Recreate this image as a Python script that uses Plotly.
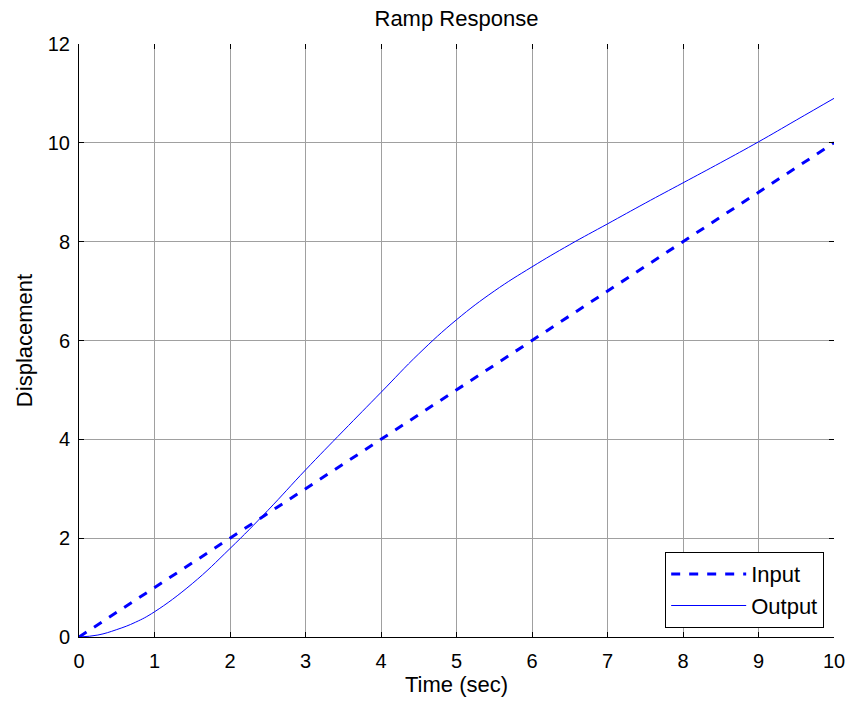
import plotly.graph_objects as go

t_input = [0, 1, 2, 3, 4, 5, 6, 7, 8, 9, 10]
y_input = [0, 1, 2, 3, 4, 5, 6, 7, 8, 9, 10]

t_output = [0, 0.25, 0.5, 0.75, 1, 1.5, 2, 2.5, 3, 3.5, 4, 4.5, 5, 5.5, 6, 6.5, 7, 7.5, 8, 8.5, 9, 9.5, 10]
y_output = [0, 0.04, 0.15, 0.3, 0.51, 1.08, 1.79, 2.56, 3.38, 4.17, 4.95, 5.73, 6.42, 7.0, 7.49, 7.94, 8.36, 8.78, 9.19, 9.6, 10.02, 10.46, 10.9]

x_ticks = [0, 1, 2, 3, 4, 5, 6, 7, 8, 9, 10]
y_ticks = [0, 2, 4, 6, 8, 10, 12]

FONT = "Liberation Sans, Arial, sans-serif"

fig = go.Figure()
fig.add_trace(go.Scatter(x=t_input, y=y_input, mode="lines", name="Input",
                         line=dict(color="#0000ff", width=3, dash="dash")))
fig.add_trace(go.Scatter(x=t_output, y=y_output, mode="lines", name="Output",
                         line=dict(color="#0000ff", width=1, shape="spline", smoothing=1.2)))

axis_common = dict(
    showgrid=True, gridcolor="#a0a0a0", gridwidth=1,
    showline=True, linecolor="black", linewidth=1,
    ticks="inside", ticklen=5, tickcolor="black",
    zeroline=False, tickfont=dict(size=20, color="black", family=FONT),
    automargin=False,
)

fig.update_layout(
    width=850, height=704,
    paper_bgcolor="white", plot_bgcolor="white",
    margin=dict(l=79, r=16, t=44, b=67),
    font=dict(family=FONT, size=20, color="black"),
    title=dict(text="Ramp Response", x=0.537, xanchor="center", y=0.974, yanchor="middle",
               font=dict(size=22, family=FONT, color="black")),
    xaxis=dict(range=[0, 10], tickvals=x_ticks, ticklabelstandoff=6,
               title=dict(text="Time (sec)", standoff=3, font=dict(size=22)), **axis_common),
    yaxis=dict(range=[0, 12], tickvals=y_ticks, ticklabelstandoff=4,
               title=dict(text="Displacement", standoff=9, font=dict(size=22)), **axis_common),
    xaxis2=dict(range=[0, 10], tickvals=x_ticks, overlaying="x", side="top", showticklabels=False,
                ticks="inside", ticklen=5, tickcolor="black", showgrid=False, showline=False, zeroline=False),
    yaxis2=dict(range=[0, 12], tickvals=y_ticks, overlaying="y", side="right", showticklabels=False,
                ticks="inside", ticklen=5, tickcolor="black", showgrid=False, showline=False, zeroline=False),
    legend=dict(x=0.987, y=0.015, xanchor="right", yanchor="bottom",
                bgcolor="white", bordercolor="black", borderwidth=1, itemwidth=75,
                font=dict(size=22, family=FONT, color="black"), tracegroupgap=0),
    showlegend=True,
)
fig.add_trace(go.Scatter(x=[0], y=[0], xaxis="x2", yaxis="y2", mode="markers",
                         marker=dict(opacity=0), showlegend=False, hoverinfo="skip"))

fig.write_html("out.html", config={"displayModeBar": False},
               post_script="document.body.style.margin='0';")
